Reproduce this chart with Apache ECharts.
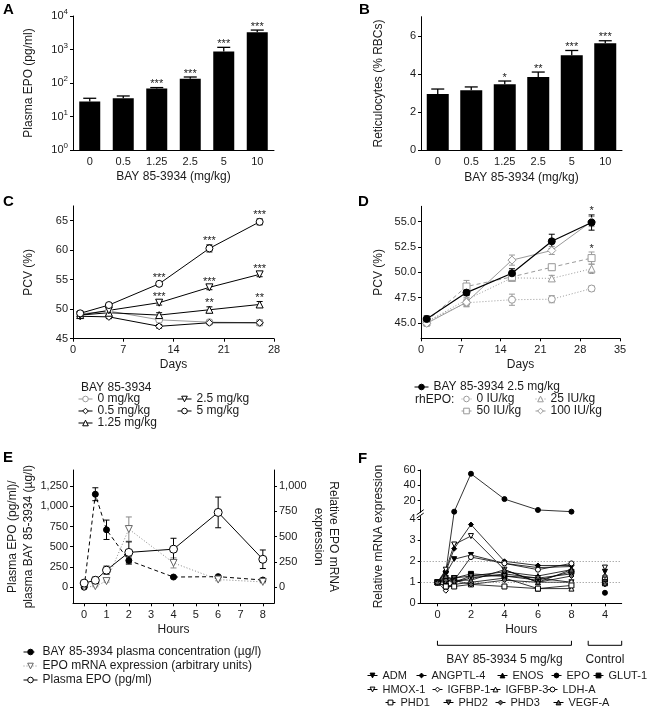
<!DOCTYPE html>
<html><head><meta charset="utf-8">
<script src="https://cdn.jsdelivr.net/npm/echarts@6.0.0/dist/echarts.min.js"></script>
<style>html,body{margin:0;padding:0;background:#fff;}#c{width:653px;height:715px;}</style>
</head><body><div id="c"></div>
<script>
const FONT = '"Liberation Sans", Arial, sans-serif';
const TXT = '#1a1a1a';
const GRAY = '#9a9a9a';

// ---------- Panel A ----------
const doseLabels = ['0', '0.5', '1.25', '2.5', '5', '10'];
const plasmaEpoMean = [28, 35, 68, 135, 870, 3300];
const plasmaEpoErr = [7, 6, 5, 16, 290, 500];
const plasmaEpoStars = ['', '', '***', '***', '***', '***'];
const logTicks = [1, 10, 100, 1000, 10000];
// ---------- Panel B ----------
const reticMean = [2.95, 3.14, 3.46, 3.84, 4.98, 5.61];
const reticErr = [0.26, 0.18, 0.17, 0.26, 0.25, 0.13];
const reticStars = ['', '', '*', '**', '***', '***'];
const reticTicks = [0, 2, 4, 6];
// ---------- Panel C ----------
const daysC = [1, 5, 12, 19, 26];
const pcv0 = [49.2, 49.7, 48.2, 47.8, 47.7];
const pcv0Err = [0.4, 0.4, 0.5, 0.3, 0.5];
const pcv05 = [48.8, 48.7, 47.1, 47.7, 47.7];
const pcv05Err = [0.3, 0.3, 0.3, 0.3, 0.4];
const pcv125 = [49.0, 49.4, 49.0, 49.9, 50.8];
const pcv125Err = [0.4, 0.3, 0.4, 0.5, 0.5];
const pcv125Stars = ['', '', '', '**', '**'];
const pcv25 = [49.0, 49.8, 51.1, 53.7, 55.9];
const pcv25Err = [0.4, 0.3, 0.4, 0.4, 0.4];
const pcv25Stars = ['', '', '***', '***', '***'];
const pcv5 = [49.3, 50.7, 54.3, 60.3, 64.8];
const pcv5Err = [0.4, 0.3, 0.35, 0.6, 0.5];
const pcv5Stars = ['', '', '***', '***', '***'];
const pcvTicksC = [45, 50, 55, 60, 65];
// ---------- Panel D ----------
const daysD = [1, 8, 16, 23, 30];
const pcvBay = [45.4, 48.0, 49.9, 53.05, 54.9];
const pcvBayErr = [0.3, 0.3, 0.45, 0.7, 0.75];
const pcvBayStars = ['', '', '', '', '*'];
const pcvEpo0 = [45.15, 47.0, 47.3, 47.35, 48.4];
const pcvEpo0Err = [0.3, 0.35, 0.55, 0.35, 0.25];
const pcvEpo0Stars = ['', '', '', '', '*'];
const pcvEpo25 = [45.1, 47.3, 49.45, 49.4, 50.35];
const pcvEpo25Err = [0.3, 0.5, 0.3, 0.3, 0.45];
const pcvEpo50 = [45.2, 48.6, 49.55, 50.5, 51.4];
const pcvEpo50Err = [0.3, 0.6, 0.3, 0.3, 0.6];
const pcvEpo50Stars = ['', '', '', '', '*'];
const pcvEpo100 = [44.97, 47.05, 51.2, 52.15, 55.0];
const pcvEpo100Err = [0.3, 0.45, 0.5, 0.4, 0.5];
const pcvTicksD = [45, 47.5, 50, 52.5, 55];
// ---------- Panel E ----------
const hoursE = [0, 0.5, 1, 2, 4, 6, 8];
const bayConc = [0, 1150, 710, 330, 125, 130, 88];
const bayConcErr = [5, 80, 120, 45, 12, 12, 10];
const epoMrna = [0, 10, 60, 575, 240, 75, 52];
const epoMrnaErr = [5, 6, 10, 120, 50, 12, 10];
const plasmaEpoE = [50, 85, 210, 430, 470, 925, 345];
const plasmaEpoEErr = [20, 40, 50, 130, 135, 190, 115];
const leftTicksE = [0, 250, 500, 750, 1000, 1250];
const rightTicksE = [0, 250, 500, 750, 1000];
// ---------- Panel F ----------
const hoursF = [0, 0.5, 1, 2, 4, 6, 8];
const controlX = 10;
const geneNames = ['ADM', 'ANGPTL-4', 'ENOS', 'EPO', 'GLUT-1', 'HMOX-1', 'IGFBP-1', 'IGFBP-3', 'LDH-A', 'PHD1', 'PHD2', 'PHD3', 'VEGF-A'];
const fADM = [1, 1.4, 2.1, 2.3, 1.9, 1.7, 1.75];
const fANGPTL4 = [1, 1.5, 2.6, 3.75, 2.0, 1.8, 1.8];
const fENOS = [1, 1.1, 1.0, 1.3, 1.5, 1.3, 1.6];
const fEPO = [1, 1.5, 5.6, 55, 22, 7.8, 5.6];
const fGLUT1 = [1, 1.0, 1.2, 1.4, 1.3, 1.1, 1.5];
const fHMOX1 = [1, 1.6, 2.8, 3.2, 1.6, 1.0, 1.0];
const fIGFBP1 = [1, 0.6, 1.0, 1.2, 1.4, 1.2, 1.0];
const fIGFBP3 = [1, 0.8, 0.9, 1.0, 1.2, 0.7, 0.7];
const fLDHA = [1, 1.2, 1.1, 2.2, 1.9, 1.6, 1.9];
const fPHD1 = [1, 0.8, 0.8, 0.9, 0.8, 0.7, 0.85];
const fPHD2 = [1, 1.2, 1.2, 1.3, 1.3, 1.2, 1.4];
const fPHD3 = [1, 1.1, 1.1, 0.9, 1.1, 1.0, 1.3];
const fVEGFA = [1, 1.3, 1.1, 1.1, 1.6, 1.0, 1.6];
const fControl = [1.5, 1.1, 1.2, 0.5, 1.1, 1.7, 0.9, 1.0, 1.2, 1.0, 1.0, 1.3, 0.95];
const geneValues = [fADM, fANGPTL4, fENOS, fEPO, fGLUT1, fHMOX1, fIGFBP1, fIGFBP3, fLDHA, fPHD1, fPHD2, fPHD3, fVEGFA];
const fLowTicks = [0, 1, 2, 3, 4];
const fHighTicks = [20, 40, 60];
const fRefLines = [1, 2];
const fTickX = [0, 2, 4, 6, 8, 10];

// broken axis mapping for panel F
const F_LOW_MAX = 4.15;
function brk(v) { return v <= F_LOW_MAX ? v : 4.157 + 0.03655 * v; }
function unbrk(t) { return t <= F_LOW_MAX + 0.01 ? t : (t - 4.157) / 0.03655; }

// ---------- helpers ----------
const DOWN = 'path://M0,0L10,0L5,9Z';
const pairs = (xs, ys) => xs.map((x, i) => [x, ys[i]]);
function isObj(o) { return o && typeof o === 'object' && !Array.isArray(o); }
function merge(a, b) {
  const r = Object.assign({}, a);
  for (const k in b) r[k] = (isObj(a[k]) && isObj(b[k])) ? merge(a[k], b[k]) : b[k];
  return r;
}
const baseAxis = {
  axisLine: { show: true, onZero: false, lineStyle: { color: '#000', width: 1 } },
  axisTick: { show: true, length: 3, lineStyle: { color: '#000', width: 1 } },
  axisLabel: { fontSize: 11, fontFamily: FONT, color: TXT, margin: 5 },
  splitLine: { show: false },
  nameLocation: 'middle',
  nameTextStyle: { fontSize: 12, fontFamily: FONT, color: TXT },
};
const ax = (o) => merge(baseAxis, o);

function errSeries(xi, yi, xs, mean, err, o) {
  o = o || {};
  const stars = o.stars || [];
  return {
    type: 'custom', xAxisIndex: xi, yAxisIndex: yi, z: o.z || 1, silent: true, clip: false,
    data: xs.map((x, i) => [x, o.up ? mean[i] : mean[i] - err[i], mean[i] + err[i]]),
    renderItem(params, api) {
      const x = api.value(0);
      const a = api.coord([x, api.value(1)]);
      const b = api.coord([x, api.value(2)]);
      const w = (o.cap || 6) / 2;
      const st = { stroke: o.color || '#000', lineWidth: o.lw || 1 };
      const ch = [
        { type: 'line', shape: { x1: a[0], y1: a[1], x2: b[0], y2: b[1] }, style: st },
        { type: 'line', shape: { x1: b[0] - w, y1: b[1], x2: b[0] + w, y2: b[1] }, style: st },
      ];
      if (!o.up) ch.push({ type: 'line', shape: { x1: a[0] - w, y1: a[1], x2: a[0] + w, y2: a[1] }, style: st });
      const s = stars[params.dataIndex];
      if (s) ch.push({ type: 'text', x: b[0] + (o.sdx || 0), y: b[1] - (o.sgap == null ? -2 : o.sgap),
        style: { text: s, fill: TXT, fontSize: 11, fontFamily: FONT, align: 'center', verticalAlign: 'bottom' } });
      return { type: 'group', children: ch };
    }
  };
}
function lineSeries(name, xi, yi, data, o) {
  return {
    name, type: 'line', xAxisIndex: xi, yAxisIndex: yi, data,
    symbol: o.sym, symbolSize: o.size || 6, showSymbol: true, z: 3,
    lineStyle: { color: o.lc || '#000', width: o.lw || 1, type: o.dash || 'solid' },
    itemStyle: { color: o.fill || '#fff', borderColor: o.bc || '#000', borderWidth: o.bw == null ? 1 : o.bw },
    emphasis: { disabled: true }
  };
}
function lg(name, left, cy, w, fs, ih) {
  return { show: true, data: [name], left, top: cy - 7, padding: 0, itemGap: 0, itemWidth: w || 14, itemHeight: ih || 7,
    selectedMode: false, itemStyle: { borderWidth: 1 }, lineStyle: { width: 1 },
    textStyle: { fontSize: fs || 12, fontFamily: FONT, color: TXT } };
}
function txt(text, x, y, o) {
  return Object.assign({ type: 'text', x, y, silent: true,
    style: Object.assign({ text, fill: TXT, fontSize: 12, fontFamily: FONT, align: 'left', verticalAlign: 'middle' }, (o && o.style) || {}) },
    (o && o.rot) ? { rotation: o.rot } : {});
}
const letter = (t, x, y) => ({ type: 'text', x, y, silent: true, style: { text: t, fill: '#000', fontSize: 15, fontWeight: 'bold', fontFamily: FONT, align: 'left', verticalAlign: 'top' } });

// ---------- gene styles (F) ----------
const geneStyle = {
  'ADM': { sym: DOWN, fill: '#000' }, 'ANGPTL-4': { sym: 'diamond', fill: '#000' }, 'ENOS': { sym: 'triangle', fill: '#000' },
  'EPO': { sym: 'circle', fill: '#000' }, 'GLUT-1': { sym: 'rect', fill: '#000' },
  'HMOX-1': { sym: DOWN }, 'IGFBP-1': { sym: 'diamond' }, 'IGFBP-3': { sym: 'triangle' }, 'LDH-A': { sym: 'circle' },
  'PHD1': { sym: 'rect' }, 'PHD2': { sym: DOWN, fill: '#666' }, 'PHD3': { sym: 'diamond', fill: '#666' }, 'VEGF-A': { sym: 'triangle', fill: '#666' }
};

const series = [];
// A
series.push({ type: 'bar', xAxisIndex: 0, yAxisIndex: 0, data: plasmaEpoMean, barWidth: 21, itemStyle: { color: '#000' }, z: 2, silent: true });
series.push(errSeries(0, 0, doseLabels.map((d, i) => i), plasmaEpoMean, plasmaEpoErr, { up: true, cap: 13, lw: 1.3, stars: plasmaEpoStars, z: 1 }));
// B
series.push({ type: 'bar', xAxisIndex: 1, yAxisIndex: 1, data: reticMean, barWidth: 22, itemStyle: { color: '#000' }, z: 2, silent: true });
series.push(errSeries(1, 1, doseLabels.map((d, i) => i), reticMean, reticErr, { up: true, cap: 13, lw: 1.3, stars: reticStars, z: 1 }));
// C
series.push(lineSeries('0 mg/kg', 2, 2, pairs(daysC, pcv0), { sym: 'circle', size: 7, lc: GRAY, bc: GRAY }));
series.push(lineSeries('0.5 mg/kg', 2, 2, pairs(daysC, pcv05), { sym: 'diamond', size: 7 }));
series.push(lineSeries('1.25 mg/kg', 2, 2, pairs(daysC, pcv125), { sym: 'triangle', size: 7 }));
series.push(lineSeries('2.5 mg/kg', 2, 2, pairs(daysC, pcv25), { sym: DOWN, size: 7 }));
series.push(lineSeries('5 mg/kg', 2, 2, pairs(daysC, pcv5), { sym: 'circle', size: 7 }));
series.push(errSeries(2, 2, daysC, pcv0, pcv0Err, { color: GRAY, cap: 6 }));
series.push(errSeries(2, 2, daysC, pcv05, pcv05Err, { cap: 6 }));
series.push(errSeries(2, 2, daysC, pcv125, pcv125Err, { cap: 6, stars: pcv125Stars }));
series.push(errSeries(2, 2, daysC, pcv25, pcv25Err, { cap: 6, stars: pcv25Stars }));
series.push(errSeries(2, 2, daysC, pcv5, pcv5Err, { cap: 6, stars: pcv5Stars }));
// D
series.push(lineSeries('0 IU/kg', 3, 3, pairs(daysD, pcvEpo0), { sym: 'circle', size: 7, lc: GRAY, bc: GRAY, dash: [1, 2] }));
series.push(lineSeries('25 IU/kg', 3, 3, pairs(daysD, pcvEpo25), { sym: 'triangle', size: 7, lc: GRAY, bc: GRAY, dash: [1, 2] }));
series.push(lineSeries('50 IU/kg', 3, 3, pairs(daysD, pcvEpo50), { sym: 'rect', size: 7, lc: GRAY, bc: GRAY, dash: [4, 3] }));
series.push(lineSeries('100 IU/kg', 3, 3, pairs(daysD, pcvEpo100), { sym: 'diamond', size: 8, lc: GRAY, bc: GRAY }));
series.push(lineSeries('BAY 85-3934 2.5 mg/kg', 3, 3, pairs(daysD, pcvBay), { sym: 'circle', size: 7, fill: '#000', lw: 1.2 }));
series.push(errSeries(3, 3, daysD, pcvEpo0, pcvEpo0Err, { color: GRAY, stars: pcvEpo0Stars, sgap: 6 }));
series.push(errSeries(3, 3, daysD, pcvEpo25, pcvEpo25Err, { color: GRAY }));
series.push(errSeries(3, 3, daysD, pcvEpo50, pcvEpo50Err, { color: GRAY, stars: pcvEpo50Stars }));
series.push(errSeries(3, 3, daysD, pcvEpo100, pcvEpo100Err, { color: GRAY }));
series.push(errSeries(3, 3, daysD, pcvBay, pcvBayErr, { stars: pcvBayStars }));
// E
series.push(lineSeries('BAY 85-3934 plasma concentration (µg/l)', 4, 4, pairs(hoursE, bayConc), { sym: 'circle', size: 6, fill: '#000', dash: [4, 3] }));
series.push(lineSeries('EPO mRNA expression (arbitrary units)', 4, 5, pairs(hoursE, epoMrna), { sym: DOWN, size: 7, lc: '#888', bc: '#666', dash: [1, 2] }));
series.push(lineSeries('Plasma EPO (pg/ml)', 4, 4, pairs(hoursE, plasmaEpoE), { sym: 'circle', size: 8 }));
series.push(errSeries(4, 4, hoursE, bayConc, bayConcErr, { cap: 6 }));
series.push(errSeries(4, 5, hoursE, epoMrna, epoMrnaErr, { cap: 6, color: '#888' }));
series.push(errSeries(4, 4, hoursE, plasmaEpoE, plasmaEpoEErr, { cap: 6 }));
// F
geneNames.forEach((g, gi) => {
  const vals = geneValues[gi];
  const data = hoursF.map((h, i) => [h, brk(vals[i])]).concat([[9, null], [controlX, brk(fControl[gi])]]);
  const st = geneStyle[g];
  const s = lineSeries(g, 5, 6, data, { sym: st.sym, size: 5, fill: st.fill || '#fff', lw: 0.8 });
  s.connectNulls = false;
  if (gi === 0) {
    s.markLine = { silent: true, symbol: 'none', label: { show: false }, animation: false,
      lineStyle: { color: '#888', type: [1, 2], width: 1 }, data: fRefLines.map(v => ({ yAxis: brk(v) })) };
  }
  series.push(s);
});

const grids = [
  { left: 73, top: 16, width: 201, height: 134 },
  { left: 421, top: 16.7, width: 201, height: 133.6 },
  { left: 73, top: 205.9, width: 201, height: 132.8 },
  { left: 421, top: 206.3, width: 199, height: 132 },
  { left: 73, top: 470, width: 201, height: 133.3 },
  { left: 420.7, top: 469.9, width: 201, height: 133.4 },
].map(g => Object.assign({ outerBoundsMode: 'none', containLabel: false }, g));

const xAxes = [
  ax({ type: 'category', gridIndex: 0, data: doseLabels, axisTick: { show: false }, axisLabel: { margin: 6 }, name: 'BAY 85-3934 (mg/kg)', nameGap: 21 }),
  ax({ type: 'category', gridIndex: 1, data: doseLabels, axisTick: { show: false }, axisLabel: { margin: 6 }, name: 'BAY 85-3934 (mg/kg)', nameGap: 21 }),
  ax({ type: 'value', gridIndex: 2, min: 0, max: 28, interval: 7, axisLabel: { margin: 6 }, name: 'Days', nameGap: 20 }),
  ax({ type: 'value', gridIndex: 3, min: 0, max: 35, interval: 7, axisLabel: { margin: 6 }, name: 'Days', nameGap: 20 }),
  ax({ type: 'value', gridIndex: 4, min: -0.5, max: 8.5, axisTick: { customValues: [0, 1, 2, 3, 4, 5, 6, 7, 8] }, axisLabel: { margin: 6, customValues: [0, 1, 2, 3, 4, 5, 6, 7, 8] }, name: 'Hours', nameGap: 20 }),
  ax({ type: 'value', gridIndex: 5, min: -1, max: 11, axisTick: { customValues: fTickX }, axisLabel: { margin: 6, customValues: fTickX, formatter: v => (v === controlX ? '4' : String(v)) }, name: 'Hours', nameGap: 20 }),
];
const yAxes = [
  ax({ type: 'log', logBase: 10, gridIndex: 0, min: 1, max: 10000, name: 'Plasma EPO (pg/ml)', nameGap: 38,
    axisTick: { customValues: logTicks }, minorTick: { show: false },
    axisLabel: { customValues: logTicks, formatter: v => '{b|10}{s|' + Math.round(Math.log10(v)) + '}',
      rich: { b: { fontSize: 11, fontFamily: FONT, color: TXT, lineHeight: 16 }, s: { fontSize: 8, fontFamily: FONT, color: TXT, verticalAlign: 'top', lineHeight: 16 } } } }),
  ax({ type: 'value', gridIndex: 1, min: 0, max: 7, name: 'Reticulocytes (% RBCs)', nameGap: 36, axisTick: { customValues: reticTicks }, axisLabel: { customValues: reticTicks } }),
  ax({ type: 'value', gridIndex: 2, min: 45, max: 67.5, name: 'PCV (%)', nameGap: 38, axisTick: { customValues: pcvTicksC }, axisLabel: { customValues: pcvTicksC } }),
  ax({ type: 'value', gridIndex: 3, min: 43.5, max: 56.5, name: 'PCV (%)', nameGap: 36, axisTick: { customValues: pcvTicksD }, axisLabel: { customValues: pcvTicksD, formatter: v => v.toFixed(1) } }),
  ax({ type: 'value', gridIndex: 4, min: -200, max: 1450, name: 'Plasma EPO (pg/ml)/\nplasma BAY 85-3934 (µg/l)', nameGap: 36,
    nameTextStyle: { lineHeight: 16 },
    axisTick: { customValues: leftTicksE }, axisLabel: { customValues: leftTicksE, formatter: v => v.toLocaleString('en-US') } }),
  ax({ type: 'value', gridIndex: 4, position: 'right', min: -160, max: 1160, name: 'Relative EPO mRNA\nexpression', nameGap: 34, nameRotate: -90,
    nameTextStyle: { lineHeight: 15 },
    axisTick: { customValues: rightTicksE }, axisLabel: { customValues: rightTicksE, formatter: v => v.toLocaleString('en-US') } }),
  ax({ type: 'value', gridIndex: 5, min: 0, max: brk(60), name: 'Relative mRNA expression', nameGap: 36,
    axisTick: { customValues: fLowTicks.concat(fHighTicks.map(brk)) },
    axisLabel: { customValues: fLowTicks.concat(fHighTicks.map(brk)), formatter: v => String(Math.round(unbrk(v))) } }),
];

const legends = [
  lg('0 mg/kg', 78, 400), lg('0.5 mg/kg', 78, 412), lg('1.25 mg/kg', 78, 424),
  lg('2.5 mg/kg', 177, 400), lg('5 mg/kg', 177, 412),
  lg('BAY 85-3934 2.5 mg/kg', 414, 388), lg('0 IU/kg', 461, 400, 10), lg('25 IU/kg', 535, 400, 10),
  lg('50 IU/kg', 461, 412, 10), lg('100 IU/kg', 535, 412, 10),
  lg('BAY 85-3934 plasma concentration (µg/l)', 23, 653), lg('EPO mRNA expression (arbitrary units)', 23, 667), lg('Plasma EPO (pg/ml)', 23, 681),
  lg('ADM', 367, 677, 10, 11, 6), lg('ANGPTL-4', 416, 677, 10, 11, 6), lg('ENOS', 497, 677, 10, 11, 6), lg('EPO', 551, 677, 10, 11, 6), lg('GLUT-1', 593, 677, 10, 11, 6),
  lg('HMOX-1', 367, 691, 10, 11, 6), lg('IGFBP-1', 432, 691, 10, 11, 6), lg('IGFBP-3', 490, 691, 10, 11, 6), lg('LDH-A', 547, 691, 10, 11, 6),
  lg('PHD1', 385, 704, 10, 11, 6), lg('PHD2', 443, 704, 10, 11, 6), lg('PHD3', 495, 704, 10, 11, 6), lg('VEGF-A', 553, 704, 10, 11, 6),
];

const graphics = [
  letter('A', 3, 2), letter('B', 359, 2), letter('C', 3, 194), letter('D', 358, 194), letter('E', 3, 450), letter('F', 358, 451),
  txt('BAY 85-3934', 81, 388), txt('rhEPO:', 415, 400),
];

const option = {
  animation: false,
  backgroundColor: '#fff',
  textStyle: { fontFamily: FONT },
  grid: grids, xAxis: xAxes, yAxis: yAxes, legend: legends, series, graphic: graphics,
};
const chart = echarts.init(document.getElementById('c'), null, { renderer: 'canvas', width: 653, height: 715 });
chart.setOption(option);

// bracket under F and axis break marks, positioned through the chart's scales
const p0 = chart.convertToPixel({ gridIndex: 5 }, [0, 0]);
const p8 = chart.convertToPixel({ gridIndex: 5 }, [8, 0]);
const p9 = chart.convertToPixel({ gridIndex: 5 }, [9, 0]);
const p11 = chart.convertToPixel({ gridIndex: 5 }, [11, 0]);
const yLowTop = chart.convertToPixel({ gridIndex: 5 }, [0, F_LOW_MAX])[1];
const yHighBot = chart.convertToPixel({ gridIndex: 5 }, [0, brk(4.2)])[1];
const axX = chart.convertToPixel({ gridIndex: 5 }, [-1, 0])[0];
const by = p0[1] + 42, bt = by - 4.5;
const extra = [
  { type: 'polyline', id: 'br1', silent: true, shape: { points: [[p0[0], bt], [p0[0], by], [p8[0], by], [p8[0], bt]] }, style: { stroke: '#000', fill: null, lineWidth: 1 } },
  { type: 'polyline', id: 'br2', silent: true, shape: { points: [[p9[0], bt], [p9[0], by], [p11[0], by], [p11[0], bt]] }, style: { stroke: '#000', fill: null, lineWidth: 1 } },
  Object.assign(txt('BAY 85-3934 5 mg/kg', (p0[0] + p8[0]) / 2, by + 14, { style: { align: 'center' } }), { id: 'bt1' }),
  Object.assign(txt('Control', (p9[0] + p11[0]) / 2, by + 14, { style: { align: 'center' } }), { id: 'bt2' }),
  { type: 'rect', id: 'bk0', silent: true, z: 100, shape: { x: axX - 4, y: yHighBot, width: 8, height: yLowTop - yHighBot }, style: { fill: '#fff' } },
  { type: 'line', id: 'bk1', silent: true, z: 101, shape: { x1: axX - 4, y1: yHighBot + 2, x2: axX + 3, y2: yHighBot - 3 }, style: { stroke: '#000', lineWidth: 1 } },
  { type: 'line', id: 'bk2', silent: true, z: 101, shape: { x1: axX - 4, y1: yLowTop + 2, x2: axX + 3, y2: yLowTop - 3 }, style: { stroke: '#000', lineWidth: 1 } },
];
chart.setOption({ graphic: graphics.concat(extra) });
</script>
</body></html>
